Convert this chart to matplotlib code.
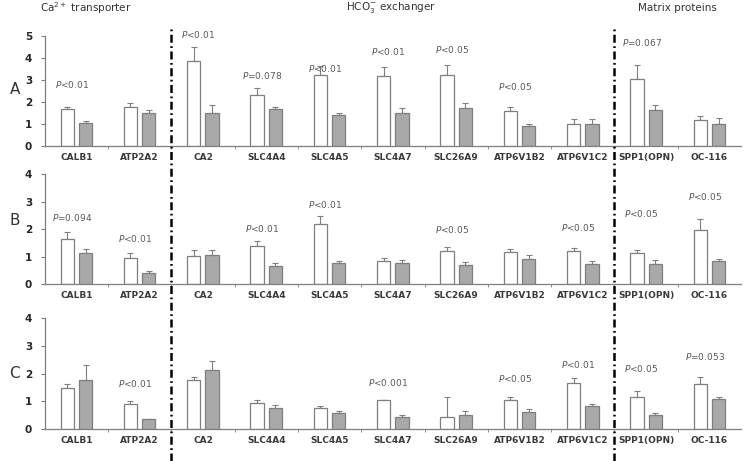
import numpy as np
import matplotlib
matplotlib.use("Agg")
import matplotlib.pyplot as plt
from matplotlib.lines import Line2D
from matplotlib.transforms import blended_transform_factory

genes = ["CALB1", "ATP2A2", "CA2", "SLC4A4", "SLC4A5", "SLC4A7", "SLC26A9",
         "ATP6V1B2", "ATP6V1C2", "SPP1(OPN)", "OC-116"]

# panel A
a_ctrl = [1.69, 1.75, 3.88, 2.33, 3.22, 3.18, 3.24, 1.58, 1.00, 3.02, 1.17]
a_ctrl_err = [0.09, 0.18, 0.63, 0.28, 0.40, 0.39, 0.44, 0.18, 0.20, 0.67, 0.17]
a_trt = [1.02, 1.47, 1.47, 1.67, 1.41, 1.50, 1.72, 0.91, 0.97, 1.63, 1.00]
a_trt_err = [0.12, 0.16, 0.37, 0.11, 0.09, 0.20, 0.21, 0.08, 0.23, 0.22, 0.25]
a_p = ["<0.01", None, "<0.01", "=0.078", "<0.01", "<0.01", "<0.05", "<0.05", None, "=0.067", None]
a_p_y = [2.77, None, 5.05, 3.18, 3.54, 4.28, 4.37, 2.72, None, 4.69, None]

# panel B
b_ctrl = [1.64, 0.95, 1.04, 1.38, 2.18, 0.83, 1.22, 1.17, 1.22, 1.14, 1.97]
b_ctrl_err = [0.26, 0.17, 0.20, 0.20, 0.29, 0.12, 0.12, 0.10, 0.09, 0.10, 0.40]
b_trt = [1.12, 0.40, 1.08, 0.66, 0.79, 0.79, 0.70, 0.93, 0.74, 0.74, 0.83]
b_trt_err = [0.17, 0.07, 0.16, 0.13, 0.06, 0.08, 0.10, 0.15, 0.09, 0.14, 0.08]
b_p = ["=0.094", "<0.01", None, "<0.01", "<0.01", None, "<0.05", None, "<0.05", "<0.05", "<0.05"]
b_p_y = [2.42, 1.67, None, 2.02, 2.90, None, 2.00, None, 2.05, 2.57, 3.18]

# panel C
c_ctrl = [1.49, 0.92, 1.76, 0.93, 0.76, 1.05, 0.45, 1.06, 1.65, 1.16, 1.63]
c_ctrl_err = [0.12, 0.09, 0.12, 0.12, 0.07, 0.01, 0.72, 0.11, 0.18, 0.20, 0.25]
c_trt = [1.77, 0.35, 2.13, 0.77, 0.57, 0.42, 0.49, 0.60, 0.82, 0.49, 1.07]
c_trt_err = [0.53, 0.02, 0.33, 0.10, 0.08, 0.09, 0.16, 0.12, 0.07, 0.10, 0.07]
c_p = [None, "<0.01", None, None, None, "<0.001", None, "<0.05", "<0.01", "<0.05", "=0.053"]
c_p_y = [None, 1.65, None, None, None, 1.69, None, 1.81, 2.33, 2.17, 2.61]

groups = [r"Ca$^{2+}$ transporter", r"HCO$_3^{-}$ exchanger", "Matrix proteins"]
group_x = [0.15, 4.97, 9.49]
group_bounds = [1.5, 8.5]

EDGE = "#7f7f7f"
GREY = "#a9a9a9"


def draw_panel(ax, letter, letter_y, ymax, ctrl, ctrl_err, trt, trt_err, p, p_y):
    x = np.arange(len(genes))
    w = 0.21
    ax.bar(x - 0.145, ctrl, w, color="white", edgecolor=EDGE, linewidth=0.9, zorder=2)
    ax.bar(x + 0.145, trt, w, color=GREY, edgecolor=EDGE, linewidth=0.9, zorder=2)
    zeros = np.zeros(len(genes))
    ax.errorbar(x - 0.145, ctrl, yerr=[zeros, ctrl_err], fmt="none", ecolor=EDGE,
                elinewidth=0.8, capsize=2, capthick=0.8, zorder=1)
    ax.errorbar(x + 0.145, trt, yerr=[zeros, trt_err], fmt="none", ecolor=EDGE,
                elinewidth=0.8, capsize=2, capthick=0.8, zorder=1)

    for i, txt in enumerate(p):
        if txt is None:
            continue
        ax.text(i - 0.07, p_y[i], "$P$" + txt, ha="center", va="center",
                fontsize=6.5, color="#595959", clip_on=False)

    ax.set_xlim(-0.5, len(genes) - 0.5)
    ax.set_ylim(0, ymax)
    ax.set_yticks(range(ymax + 1))
    ax.set_xticks(x)
    ax.set_xticklabels(genes, fontsize=6.5, fontweight="bold", color="#3a3a3a")
    ax.set_xticks(np.arange(0.5, len(genes) - 0.5), minor=True)
    ax.tick_params(axis="x", which="major", length=0, pad=5)
    ax.tick_params(axis="x", which="minor", length=2.5, color=EDGE, direction="out")
    ax.tick_params(axis="y", length=3, color=EDGE, labelsize=7.5, pad=6)
    for lab in ax.get_yticklabels():
        lab.set_fontweight("bold")
        lab.set_color("#262626")
    for s in ["top", "right"]:
        ax.spines[s].set_visible(False)
    for s in ["left", "bottom"]:
        ax.spines[s].set_color(EDGE)
        ax.spines[s].set_linewidth(0.9)
    ax.text(-0.043, letter_y, letter, transform=blended_transform_factory(ax.transAxes, ax.transData),
            ha="center", va="center", fontsize=11, color="#333333")


fig = plt.figure(figsize=(7.5, 4.61), dpi=100)
ax_a = fig.add_axes([0.0596, 0.6839, 0.9284, 0.2380])
ax_b = fig.add_axes([0.0596, 0.3833, 0.9284, 0.2393])
ax_c = fig.add_axes([0.0596, 0.0694, 0.9284, 0.2401])

draw_panel(ax_a, "A", 2.55, 5, a_ctrl, a_ctrl_err, a_trt, a_trt_err, a_p, a_p_y)
draw_panel(ax_b, "B", 2.3, 4, b_ctrl, b_ctrl_err, b_trt, b_trt_err, b_p, b_p_y)
draw_panel(ax_c, "C", 2.0, 4, c_ctrl, c_ctrl_err, c_trt, c_trt_err, c_p, c_p_y)

trans = blended_transform_factory(ax_a.transData, fig.transFigure)
for gx, name in zip(group_x, groups):
    fig.text(gx, 0.983, name, transform=trans, ha="center", va="center",
             fontsize=7.5, color="#333333")
for bx in group_bounds:
    fig.add_artist(Line2D([bx, bx], [0.0, 0.942], transform=trans, color="black",
                          linewidth=1.8, linestyle=(0, (3.2, 1.4, 0.7, 1.4))))

fig.savefig("out.png", dpi=100)
